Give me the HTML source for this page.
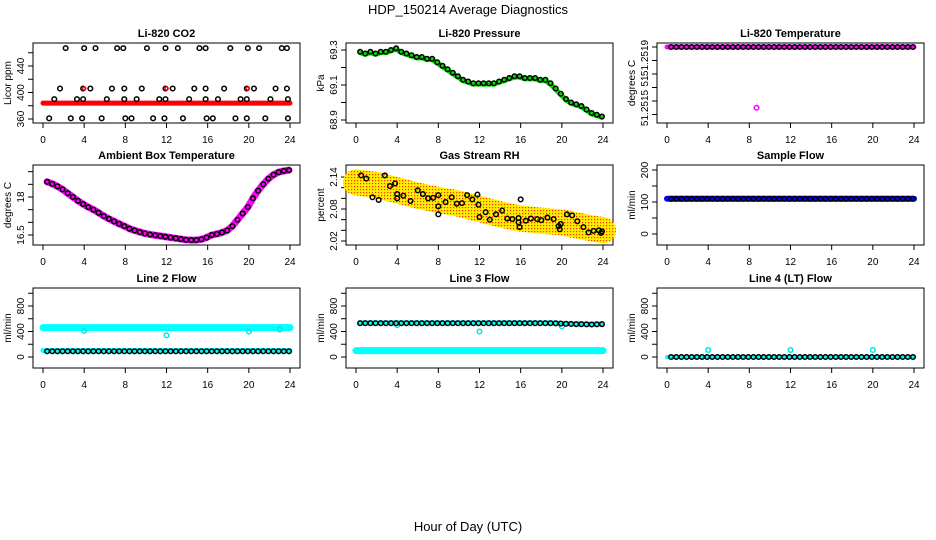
<!DOCTYPE html>
<html><head><meta charset="utf-8"><style>
html,body{margin:0;padding:0;background:#fff}
svg{display:block;font-family:"Liberation Sans",sans-serif}
</style></head><body>
<svg id="chart" width="936" height="540" viewBox="0 0 936 540">
<defs>
<pattern id="rhpat" width="3" height="3" patternUnits="userSpaceOnUse">
<rect width="3" height="3" fill="#ffee00"/>
<rect width="1.2" height="1.2" fill="#ff3300"/>
</pattern>
</defs>
<text x="468" y="14" text-anchor="middle" font-size="13">HDP_150214  Average Diagnostics</text>
<text x="468" y="531" text-anchor="middle" font-size="13">Hour of Day (UTC)</text>
</svg>
<script>
// ---- data ----
const hrs = [];
for (let i = 0; i < 48; i++) hrs.push(0.4 + i * 0.5);
const pressVals = [69.29,69.28,69.29,69.28,69.29,69.29,69.30,69.31,69.29,69.28,69.27,69.26,69.26,69.25,69.25,69.23,69.21,69.19,69.17,69.15,69.13,69.12,69.11,69.11,69.11,69.11,69.11,69.12,69.13,69.14,69.15,69.15,69.14,69.14,69.14,69.13,69.13,69.11,69.08,69.05,69.02,69.00,68.99,68.98,68.96,68.94,68.93,68.92];
const ambVals = [18.6,18.52,18.42,18.3,18.15,18.0,17.85,17.72,17.6,17.5,17.38,17.25,17.14,17.04,16.94,16.85,16.75,16.68,16.62,16.56,16.52,16.49,16.46,16.43,16.4,16.37,16.34,16.31,16.3,16.3,16.33,16.4,16.5,16.54,16.6,16.68,16.85,17.1,17.35,17.6,17.95,18.25,18.5,18.72,18.88,18.98,19.03,19.06];
const rhHours = [0.5,1,1.6,2.2,2.8,3.3,3.8,4,4,4.6,5.3,6,6.5,7,7.5,8,8,8,8.7,9.3,9.8,10.3,10.8,11.3,11.8,11.9,12,12.6,13,13.6,14.2,14.7,15.2,15.8,15.8,15.9,16,16.5,17,17.6,18,18.6,19.2,19.7,19.8,19.9,20.5,21,21.5,22.1,22.6,23.1,23.6,23.8,23.9];
const rhVals = [2.143,2.137,2.102,2.097,2.143,2.123,2.128,2.108,2.100,2.105,2.095,2.115,2.108,2.100,2.101,2.106,2.085,2.07,2.093,2.102,2.090,2.091,2.106,2.098,2.107,2.088,2.065,2.074,2.060,2.07,2.077,2.062,2.061,2.063,2.055,2.046,2.098,2.058,2.062,2.061,2.059,2.064,2.061,2.048,2.042,2.052,2.070,2.068,2.057,2.046,2.036,2.039,2.040,2.035,2.038];
const rhTrendH = [0,2,4,6,8,10,12,14,16,18,20,22,24];
const rhTrendV = [2.13,2.125,2.115,2.105,2.097,2.09,2.08,2.07,2.062,2.058,2.055,2.047,2.04];
const co2TopH = [2.2,4.0,5.1,7.2,7.8,10.1,11.9,13.1,15.2,15.8,18.2,19.9,21.0,23.2,23.7];
const co2MidH = [1.65,3.9,4.6,6.7,7.9,9.6,11.9,12.6,14.7,15.8,17.6,19.8,20.5,22.6,23.7];
const co2LowH = [1.1,3.3,3.9,6.2,7.9,9.1,11.3,11.9,14.2,15.8,17.0,19.2,19.8,22.1,23.8];
const co2BotH = [0.6,2.7,3.8,5.7,8.0,8.6,10.7,11.8,13.6,15.9,16.5,18.7,19.8,21.6,23.8];
const co2Levels = [467,406,390,361];
const co2Band = 384;
const tempTop = 51.2519;
const tempOutlierH = 8.7, tempOutlierV = 51.25145;
const sampleFlow = 110;
const line2High = 460, line2Low = 100, line2Black = 90;
const line2OutH = [4,12,20,23], line2OutV = [410,340,400,430];
const line3Black = [530,530,530,530,530,530,530,530,530,530,530,530,530,530,530,530,530,530,530,530,530,530,530,530,530,530,530,530,530,530,530,530,530,530,530,530,530,530,528,525,520,518,515,515,512,510,512,515];
const line3Low = 100;
const line3OutH = [4,12,20], line3OutV = [500,400,480];
const line4Black = 0;
const line4OutH = [4,12,20], line4OutV = [110,110,110];
const xTicks = [0,4,8,12,16,20,24];

// ---- layout ----
const svg = document.getElementById('chart');
const NS = 'http://www.w3.org/2000/svg';
function mk(tag, attrs, parent) {
  const e = document.createElementNS(NS, tag);
  for (const k in attrs) e.setAttribute(k, attrs[k]);
  (parent || svg).appendChild(e);
  return e;
}
const colL = [33, 346, 657];
const rowT = [43, 165, 288];
const H = 80, W = 267;

function panel(name, title, ylab, col, row, v1, p1, v2, p2, ticks, labels) {
  const L = colL[col], T = rowT[row], B = T + H;
  const g = mk('g', {});
  
  
  const x = h => L + 10 + h * 247 / 24;
  const y = v => T + p1 + (v - v1) * (p2 - p1) / (v2 - v1);
  const tt = mk('text', {x: L + W / 2, y: T - 6, 'text-anchor': 'middle', 'font-size': 11, 'font-weight': 'bold'}, g);
  tt.textContent = title;
  
  
  const box = mk('rect', {x: L, y: T, width: W, height: H, fill: 'none', stroke: '#000', 'stroke-width': 1}, g);
  
  
  xTicks.forEach(t => {
    mk('line', {x1: x(t), x2: x(t), y1: B, y2: B + 5, stroke: '#000'}, g);
    const tx = mk('text', {x: x(t), y: B + 20, 'text-anchor': 'middle', 'font-size': 10}, g);
    tx.textContent = t;
    
    
  });
  ticks.forEach(t => { mk('line', {x1: L - 5, x2: L, y1: y(t), y2: y(t), stroke: '#000'}, g); });
  labels.forEach(lb => {
    const yy = lb[1] !== undefined ? lb[1] : y(lb[0]);
    const tx = mk('text', {x: 0, y: 0, 'text-anchor': 'middle', 'font-size': 10, transform: `translate(${L - 9},${yy}) rotate(-90)`}, g);
    tx.textContent = lb[2] !== undefined ? lb[2] : lb[0];
    
    
  });
  const yl = mk('text', {x: 0, y: 0, 'text-anchor': 'middle', 'font-size': 10, transform: `translate(${L - 22},${T + H / 2}) rotate(-90)`}, g);
  yl.textContent = ylab;
  
  
  return {g, x, y};
}
function circ(p, cx, cy, col, nm, r, sw) {
  const c = mk('circle', {cx: cx, cy: cy, r: r || 2.3, fill: 'none', stroke: col, 'stroke-width': sw || 1.5}, p.g);
  
  
}
function band(p, hs, vs, col, w, nm) {
  const pts = hs.map((h, i) => p.x(h) + ',' + p.y(vs[i])).join(' ');
  const l = mk('polyline', {points: pts, fill: 'none', stroke: col, 'stroke-width': w, 'stroke-linejoin': 'round', 'stroke-linecap': 'round'}, p.g);
  
  
}
const full = [0, 24];
function flat(v) { return [v, v]; }

// CO2
let p = panel('co2', 'Li-820 CO2', 'Licor ppm', 0, 0, 360, 76, 440, 23, [360,380,400,420,440,460], [[360],[400],[440]]);
band(p, full, flat(co2Band), '#ff0000', 5, 'co2-raw-band');
[co2TopH, co2MidH, co2LowH, co2BotH].forEach((arr, k) => arr.forEach(h => circ(p, p.x(h), p.y(co2Levels[k]), '#000', 'co2-point')));
[3.9, 11.9, 19.8].forEach(h => circ(p, p.x(h) + 1, p.y(co2Levels[1]), '#ff0000', 'co2-red-point', 1.6));

// Pressure
p = panel('pressure', 'Li-820 Pressure', 'kPa', 1, 0, 69.3, 7, 68.9, 77, [68.9,69.0,69.1,69.2,69.3], [[69.3],[69.1],[68.9]]);
band(p, hrs, pressVals.map(v => v - 0.005), '#00e000', 5, 'pressure-raw-band');
hrs.forEach((h, i) => circ(p, p.x(h), p.y(pressVals[i]), '#000', 'pressure-point'));

// Li-820 Temp
p = panel('temperature', 'Li-820 Temperature', 'degrees C', 2, 0, 51.2519, 4, 51.2515, 58, [51.2519,51.2518,51.2517,51.2516,51.2515,51.2514], [[0,58,'51.2519'],[0,81,'51'],[0,108,'51.2515']]);
band(p, full, flat(tempTop), '#ff00ff', 5, 'temperature-raw-band');
hrs.forEach(h => circ(p, p.x(h), p.y(tempTop), '#000', 'temperature-point'));
circ(p, p.x(tempOutlierH), p.y(tempOutlierV), '#ff00ff', 'temperature-outlier');

// Ambient
p = panel('ambient', 'Ambient Box Temperature', 'degrees C', 0, 1, 18.0, 32, 16.5, 70, [16.5,17.0,17.5,18.0,18.5,19.0], [[16.5],[18.0]]);
band(p, hrs, ambVals, '#ff00ff', 7, 'ambient-raw-band');
hrs.forEach((h, i) => circ(p, p.x(h), p.y(ambVals[i]), '#000', 'ambient-point'));

// Gas RH
p = panel('rh', 'Gas Stream RH', 'percent', 1, 1, 2.14, 12, 2.02, 76, [2.02,2.04,2.06,2.08,2.10,2.12,2.14], [[2.02],[2.08],[2.14]]);
band(p, rhTrendH, rhTrendV, 'url(#rhpat)', 26, 'rh-raw-cloud');
rhHours.forEach((h, i) => circ(p, p.x(h), p.y(rhVals[i]), '#000', 'rh-point'));

// Sample flow
p = panel('sample-flow', 'Sample Flow', 'ml/min', 2, 1, 200, 5, 0, 69, [0,50,100,150,200], [[0],[100],[200]]);
band(p, full, flat(sampleFlow), '#0000ff', 6, 'sample-flow-raw-band');
hrs.forEach(h => circ(p, p.x(h), p.y(sampleFlow), '#000', 'sample-flow-point'));

// Line 2
p = panel('line2', 'Line 2 Flow', 'ml/min', 0, 2, 0, 69, 800, 18, [0,200,400,600,800,1000], [[0],[400],[800]]);
band(p, full, flat(line2High), '#00ffff', 7, 'line2-high-band');
band(p, full, flat(line2Low), '#00ffff', 5, 'line2-low-band');
line2OutH.forEach((h, i) => circ(p, p.x(h), p.y(line2OutV[i]), '#00e5e5', 'line2-outlier'));
hrs.forEach(h => circ(p, p.x(h), p.y(line2Black), '#000', 'line2-point'));

// Line 3
p = panel('line3', 'Line 3 Flow', 'ml/min', 1, 2, 0, 69, 800, 18, [0,200,400,600,800,1000], [[0],[400],[800]]);
band(p, full, flat(line3Low), '#00ffff', 7, 'line3-low-band');
band(p, hrs, line3Black.map(v => v + 5), '#00ffff', 5, 'line3-high-band');
line3OutH.forEach((h, i) => circ(p, p.x(h), p.y(line3OutV[i]), '#00e5e5', 'line3-outlier'));
hrs.forEach((h, i) => circ(p, p.x(h), p.y(line3Black[i]), '#000', 'line3-point'));

// Line 4
p = panel('line4', 'Line 4 (LT) Flow', 'ml/min', 2, 2, 0, 69, 800, 18, [0,200,400,600,800,1000], [[0],[400],[800]]);
band(p, full, flat(line4Black), '#00ffff', 4, 'line4-raw-band');
hrs.forEach(h => circ(p, p.x(h), p.y(line4Black), '#000', 'line4-point'));
line4OutH.forEach((h, i) => circ(p, p.x(h), p.y(line4OutV[i]), '#00e5e5', 'line4-outlier'));
</script>
</body></html>
